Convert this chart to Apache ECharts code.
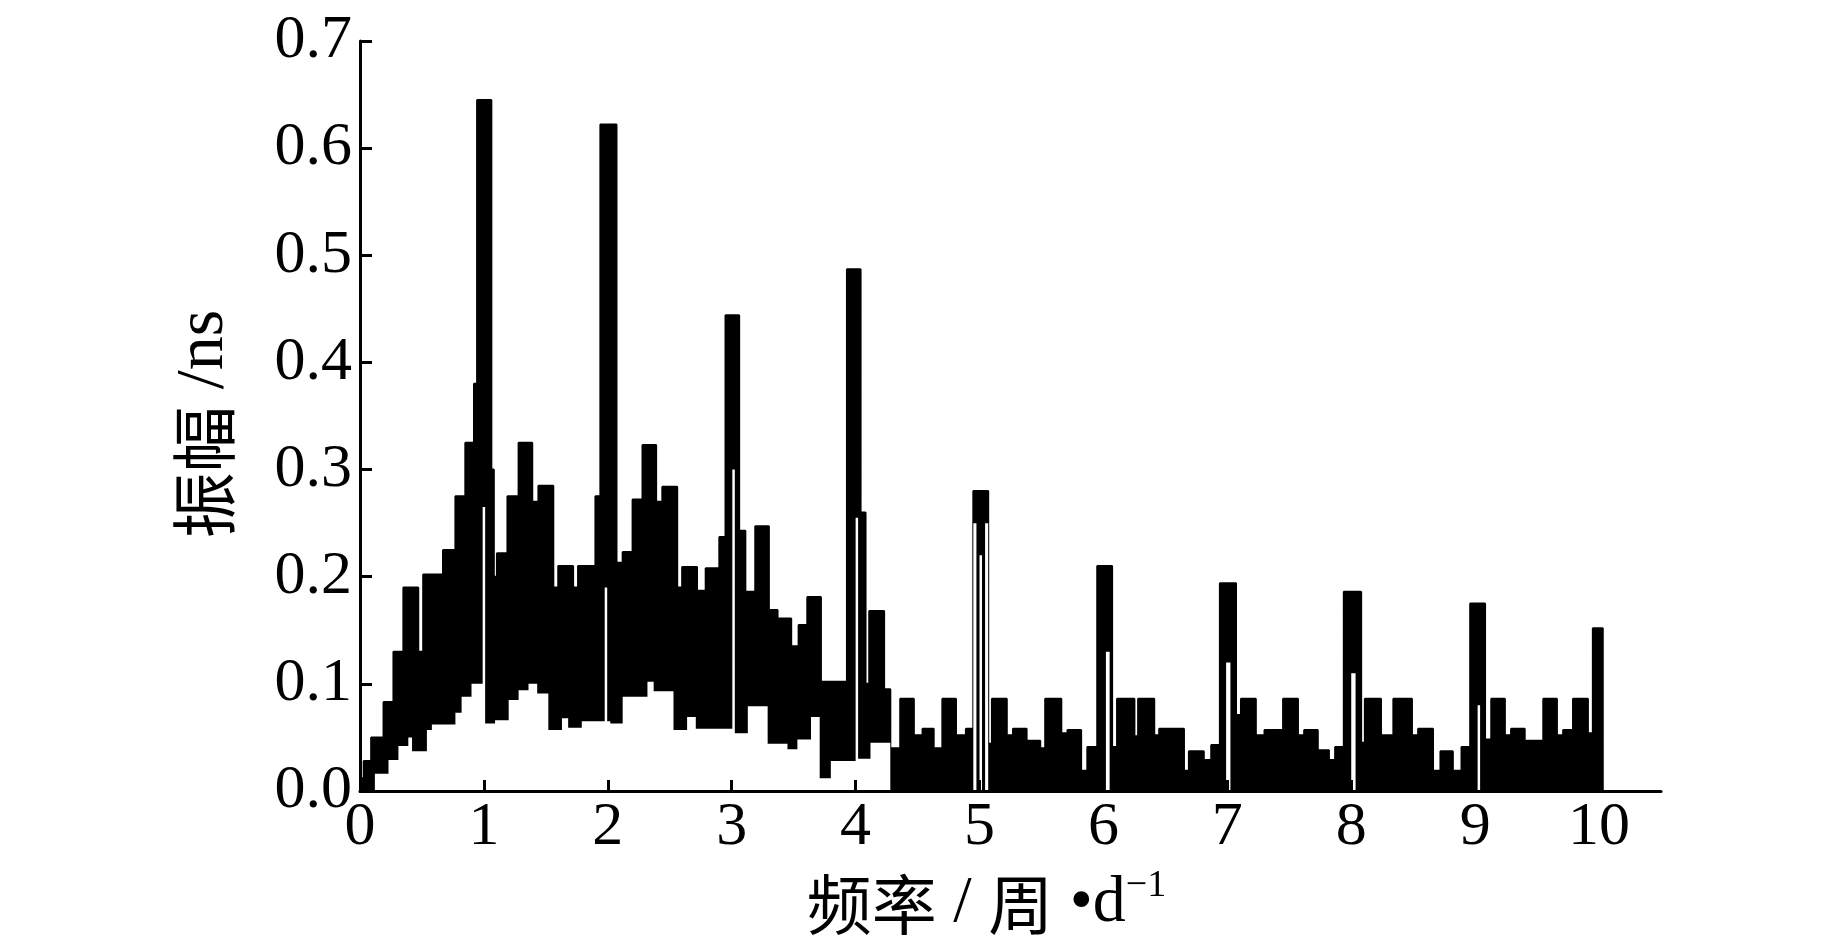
<!DOCTYPE html>
<html>
<head>
<meta charset="utf-8">
<title>振幅谱</title>
<script src="https://cdn.jsdelivr.net/npm/echarts@6/dist/echarts.min.js"></script>
<style>
  html, body { margin: 0; padding: 0; background: #fff; }
  #chart { width: 1843px; height: 945px; }
</style>
</head>
<body>
<div id="chart"></div>
<script>
// 上包络：每段起点频率 / 振幅（阶梯，值保持到下一个频率）
const upperFreq = [
  0.00, 0.03, 0.09, 0.19, 0.27, 0.35, 0.47, 0.51, 0.67, 0.77, 0.85, 0.92, 0.945,
  1.06, 1.08, 1.105, 1.19, 1.28, 1.39, 1.44, 1.56, 1.60, 1.72, 1.76, 1.90, 1.94,
  2.07, 2.12, 2.20, 2.28, 2.39, 2.44, 2.56, 2.60, 2.72, 2.79, 2.90, 2.95,
  3.06, 3.11, 3.19, 3.30, 3.37, 3.48, 3.54, 3.61, 3.72, 3.93,
  4.04, 4.08, 4.11, 4.23, 4.28, 4.36, 4.47, 4.54, 4.63, 4.70, 4.81, 4.89, 4.95,
  5.07, 5.10, 5.22, 5.27, 5.38, 5.49, 5.53, 5.66, 5.71, 5.82, 5.87, 5.95,
  6.07, 6.11, 6.25, 6.28, 6.41, 6.45, 6.65, 6.69, 6.81, 6.87, 6.94,
  7.07, 7.11, 7.23, 7.30, 7.45, 7.57, 7.62, 7.73, 7.82, 7.87, 7.94,
  8.08, 8.11, 8.24, 8.34, 8.49, 8.54, 8.66, 8.72, 8.82, 8.89, 8.96,
  9.08, 9.13, 9.24, 9.29, 9.40, 9.55, 9.66, 9.71, 9.79, 9.91, 9.95, 10.03
]
const upperAmp = [
  0.012, 0.028, 0.050, 0.083, 0.130, 0.190, 0.130, 0.202, 0.225, 0.275, 0.325, 0.380, 0.645,
  0.300, 0.200, 0.222, 0.275, 0.325, 0.270, 0.285, 0.190, 0.210, 0.190, 0.210, 0.275, 0.622,
  0.213, 0.223, 0.272, 0.323, 0.270, 0.284, 0.190, 0.209, 0.187, 0.208, 0.237, 0.444,
  0.243, 0.186, 0.247, 0.169, 0.161, 0.135, 0.155, 0.181, 0.102, 0.487,
  0.260, 0.100, 0.168, 0.095, 0.040, 0.086, 0.052, 0.058, 0.040, 0.086, 0.052, 0.058, 0.280,
  0.044, 0.086, 0.052, 0.058, 0.047, 0.040, 0.086, 0.054, 0.057, 0.019, 0.041, 0.210,
  0.041, 0.086, 0.051, 0.086, 0.052, 0.058, 0.019, 0.037, 0.029, 0.043, 0.194,
  0.071, 0.086, 0.052, 0.057, 0.086, 0.052, 0.057, 0.038, 0.029, 0.041, 0.186,
  0.045, 0.086, 0.052, 0.086, 0.052, 0.058, 0.019, 0.037, 0.019, 0.041, 0.175,
  0.048, 0.086, 0.052, 0.058, 0.047, 0.086, 0.052, 0.057, 0.086, 0.054, 0.152, 0
]

// 下包络（其下为空白），含谱峰中的细缝
const lowerFreq = [
  0.00, 0.12, 0.23, 0.31, 0.39, 0.42, 0.54, 0.58, 0.77, 0.82, 0.90, 0.99,
  1.01, 1.09, 1.20, 1.28, 1.36, 1.43, 1.52, 1.63, 1.68, 1.79, 1.975, 1.995,
  2.02, 2.12, 2.32, 2.37, 2.53, 2.64, 2.71, 3.005,
  3.025, 3.13, 3.29, 3.45, 3.53, 3.64, 3.71, 3.80, 4.00,
  4.02, 4.12, 4.28, 4.95, 4.975, 5.00, 5.02, 5.045, 5.07,
  6.02, 6.05, 6.99, 7.025, 8.00, 8.035, 9.02, 9.04, 10.5
]
const lowerAmp = [
  0, 0.016, 0.029, 0.042, 0.050, 0.037, 0.057, 0.062, 0.073, 0.088, 0.100, 0.265,
  0.063, 0.066, 0.085, 0.094, 0.100, 0.091, 0.057, 0.068, 0.059, 0.065, 0.190, 0.065,
  0.063, 0.088, 0.102, 0.093, 0.057, 0.069, 0.058, 0.300,
  0.054, 0.079, 0.044, 0.039, 0.048, 0.069, 0.012, 0.028, 0.255,
  0.030, 0.045, 0, 0.250, 0, 0.220, 0, 0.250, 0,
  0.130, 0, 0.120, 0, 0.110, 0, 0.080, 0, 0
]

const xTicks = [0, 1, 2, 3, 4, 5, 6, 7, 8, 9, 10]
const yTicks = [0, 0.1, 0.2, 0.3, 0.4, 0.5, 0.6, 0.7]

const upperData = upperFreq.map((f, i) => [f, upperAmp[i]])
const lowerData = lowerFreq.map((f, i) => [f, lowerAmp[i]])

const serif = 'Liberation Serif'
const cjk = 'Noto Sans CJK SC'

let mychart = echarts.init(document.getElementById('chart'))
mychart.setOption({
  backgroundColor: '#fff',
  animation: false,
  grid: {
    left: 360,
    right: 182,
    top: 41,
    bottom: 154
  },
  xAxis: {
    type: 'value',
    min: 0,
    max: 10.5,
    interval: 1,
    z: 10,
    name: '{cn|频率}{en| / }{cn|周}{en| •d}{sup|−1}',
    nameLocation: 'middle',
    nameGap: 76,
    nameTextStyle: {
      padding: [0, 48, 0, 0],
      rich: {
        cn: { fontFamily: cjk, fontSize: 65, color: '#000', lineHeight: 74 },
        en: { fontFamily: serif, fontSize: 66, color: '#000', lineHeight: 74 },
        sup: { fontFamily: serif, fontSize: 38, color: '#000', lineHeight: 38, verticalAlign: 'top' }
      }
    },
    axisLine: { show: true, onZero: false, lineStyle: { color: '#000', width: 3 } },
    axisTick: { show: true, inside: true, length: 11, customValues: xTicks, lineStyle: { color: '#000', width: 3 } },
    axisLabel: { customValues: xTicks, fontFamily: serif, fontSize: 62, color: '#000', margin: 6 },
    splitLine: { show: false }
  },
  yAxis: {
    type: 'value',
    min: 0,
    max: 0.7,
    interval: 0.1,
    z: 10,
    name: '{cn|振幅}{en| /ns}',
    nameLocation: 'middle',
    nameRotate: 90,
    nameGap: 122,
    nameTextStyle: {
      padding: [0, 16, 0, 0],
      rich: {
        cn: { fontFamily: cjk, fontSize: 66, color: '#000' },
        en: { fontFamily: serif, fontSize: 68, color: '#000' }
      }
    },
    axisLine: { show: true, lineStyle: { color: '#000', width: 3 } },
    axisTick: { show: true, inside: true, length: 12, customValues: yTicks, lineStyle: { color: '#000', width: 3 } },
    axisLabel: {
      customValues: yTicks,
      formatter: (v) => Number(v).toFixed(1),
      fontFamily: serif,
      fontSize: 62,
      color: '#000',
      margin: 8
    },
    splitLine: { show: false }
  },
  series: [
    {
      // 上包络，黑色填充
      type: 'line',
      step: 'end',
      data: upperData,
      symbol: 'none',
      z: 2,
      lineStyle: { color: '#000', width: 2 },
      areaStyle: { color: '#000', opacity: 1 }
    },
    {
      // 下包络，白色覆盖
      type: 'line',
      step: 'end',
      data: lowerData,
      symbol: 'none',
      z: 3,
      lineStyle: { width: 0, color: '#fff' },
      areaStyle: { color: '#fff', opacity: 1 }
    }
  ]
})
</script>
</body>
</html>
